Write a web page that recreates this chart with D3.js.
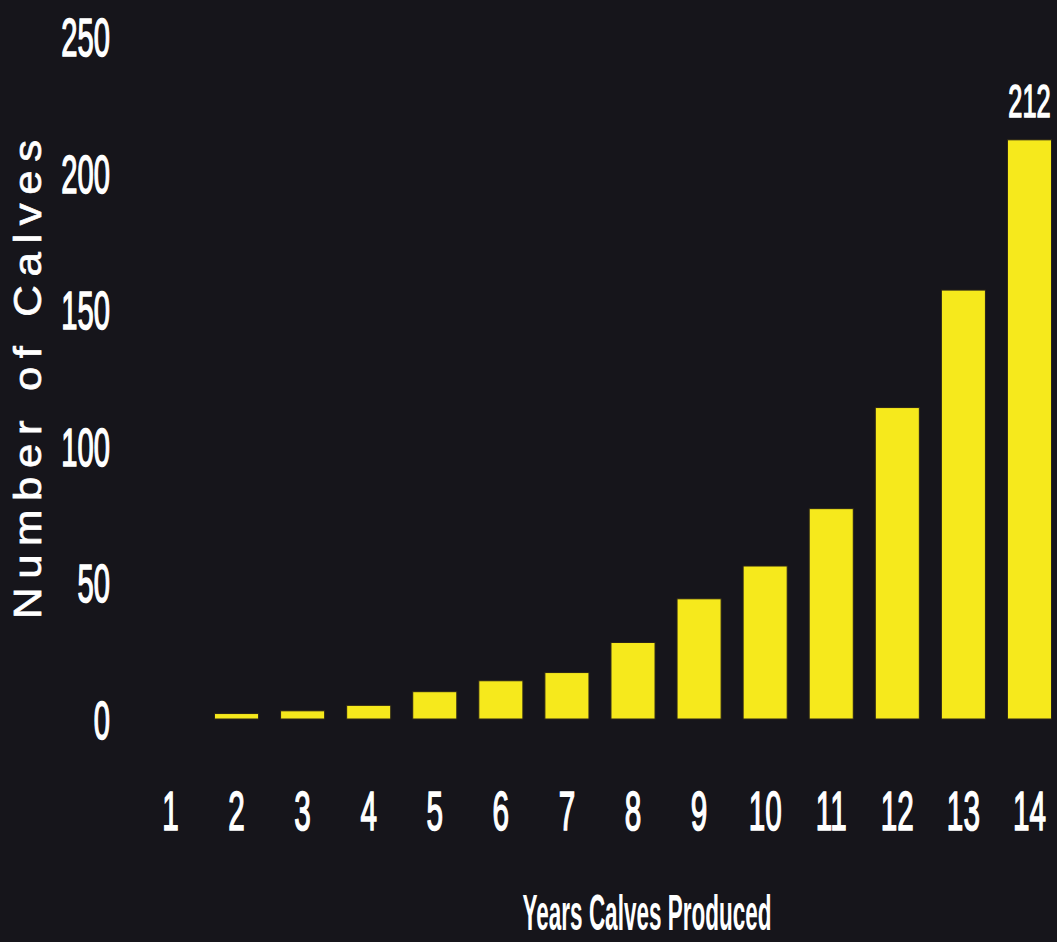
<!DOCTYPE html>
<html>
<head>
<meta charset="utf-8">
<script src="https://cdn.jsdelivr.net/npm/d3@7"></script>
<style>
  html, body { margin: 0; padding: 0; background: #16151b; }
  svg { display: block; }
</style>
</head>
<body>
<svg id="chart" width="1057" height="942"></svg>
<script>
// Data
const years = [1, 2, 3, 4, 5, 6, 7, 8, 9, 10, 11, 12, 13, 14];
const calves = [0, 2, 3, 5, 10, 14, 17, 28, 44, 56, 77, 114, 157, 212];
const yTicks = [0, 50, 100, 150, 200, 250];
const xTitle = "Years Calves Produced";
const yTitle = "Number of Calves";
const annotatedIndex = 13;

const W = 1057, H = 942;
const svg = d3.select("#chart");
const FONT = "'Liberation Sans', Arial, sans-serif";

svg.append("rect").attr("x", 0).attr("y", 0).attr("width", W).attr("height", H).attr("fill", "#16151b");

const x = d3.scaleBand()
  .domain(years)
  .range([137.4, 137.4 + 14 * 66.08])
  .paddingInner(0.333)
  .paddingOuter(0.1667);

const y = d3.scaleLinear().domain([0, 250]).range([719, 36]);

// Bars
svg.append("g").selectAll("rect")
  .data(years.map((d, i) => ({ year: d, value: calves[i] })))
  .join("rect")
  .attr("x", d => x(d.year))
  .attr("width", x.bandwidth())
  .attr("y", d => y(d.value))
  .attr("height", d => y(0) - y(d.value))
  .attr("fill", "#f6e91c")
  .attr("stroke", "#2a2418")
  .attr("stroke-width", d => d.value > 0 ? 1 : 0);

function styleNum(sel, size) {
  sel.attr("fill", "#ffffff")
    .attr("stroke", "#ffffff")
    .attr("stroke-width", 1.6)
    .attr("font-family", FONT)
    .attr("font-weight", "normal")
    .attr("font-size", size);
}

// Y axis
const yAxis = svg.append("g")
  .attr("transform", "translate(110,0)")
  .call(d3.axisLeft(y).tickValues(yTicks).tickSize(0).tickFormat(d3.format("d")));
yAxis.select(".domain").remove();
yAxis.selectAll("text")
  .attr("x", 0)
  .attr("dy", "0.36em")
  .attr("text-anchor", "end")
  .attr("transform", "scale(0.54,1)")
  .call(styleNum, 54);

// X axis
const xAxis = svg.append("g")
  .attr("transform", "translate(0,830)")
  .call(d3.axisBottom(x).tickSize(0));
xAxis.select(".domain").remove();
xAxis.selectAll("text")
  .attr("y", 0)
  .attr("dy", 0)
  .attr("text-anchor", "middle")
  .attr("transform", "scale(0.54,1)")
  .call(styleNum, 55);

// Annotation for last bar
const last = years[annotatedIndex];
svg.append("text")
  .attr("transform", `translate(${x(last) + x.bandwidth() / 2},117) scale(0.54,1)`)
  .attr("text-anchor", "middle")
  .call(styleNum, 47)
  .text(calves[annotatedIndex]);

// X title (condensed)
svg.append("text")
  .attr("transform", "translate(647,930) scale(0.45,1)")
  .attr("text-anchor", "middle")
  .attr("fill", "#ffffff")
  .attr("font-family", FONT)
  .attr("font-weight", "bold")
  .attr("font-size", 50)
  .text(xTitle);

// Y title (slightly stretched, letter-spaced)
svg.append("text")
  .attr("transform", "translate(41,619) rotate(-90) scale(1.15,1)")
  .attr("letter-spacing", 7.5)
  .attr("fill", "#ffffff")
  .attr("stroke", "#ffffff")
  .attr("stroke-width", 0.7)
  .attr("font-family", FONT)
  .attr("font-weight", "normal")
  .attr("font-size", 38)
  .text(yTitle);
</script>
</body>
</html>
